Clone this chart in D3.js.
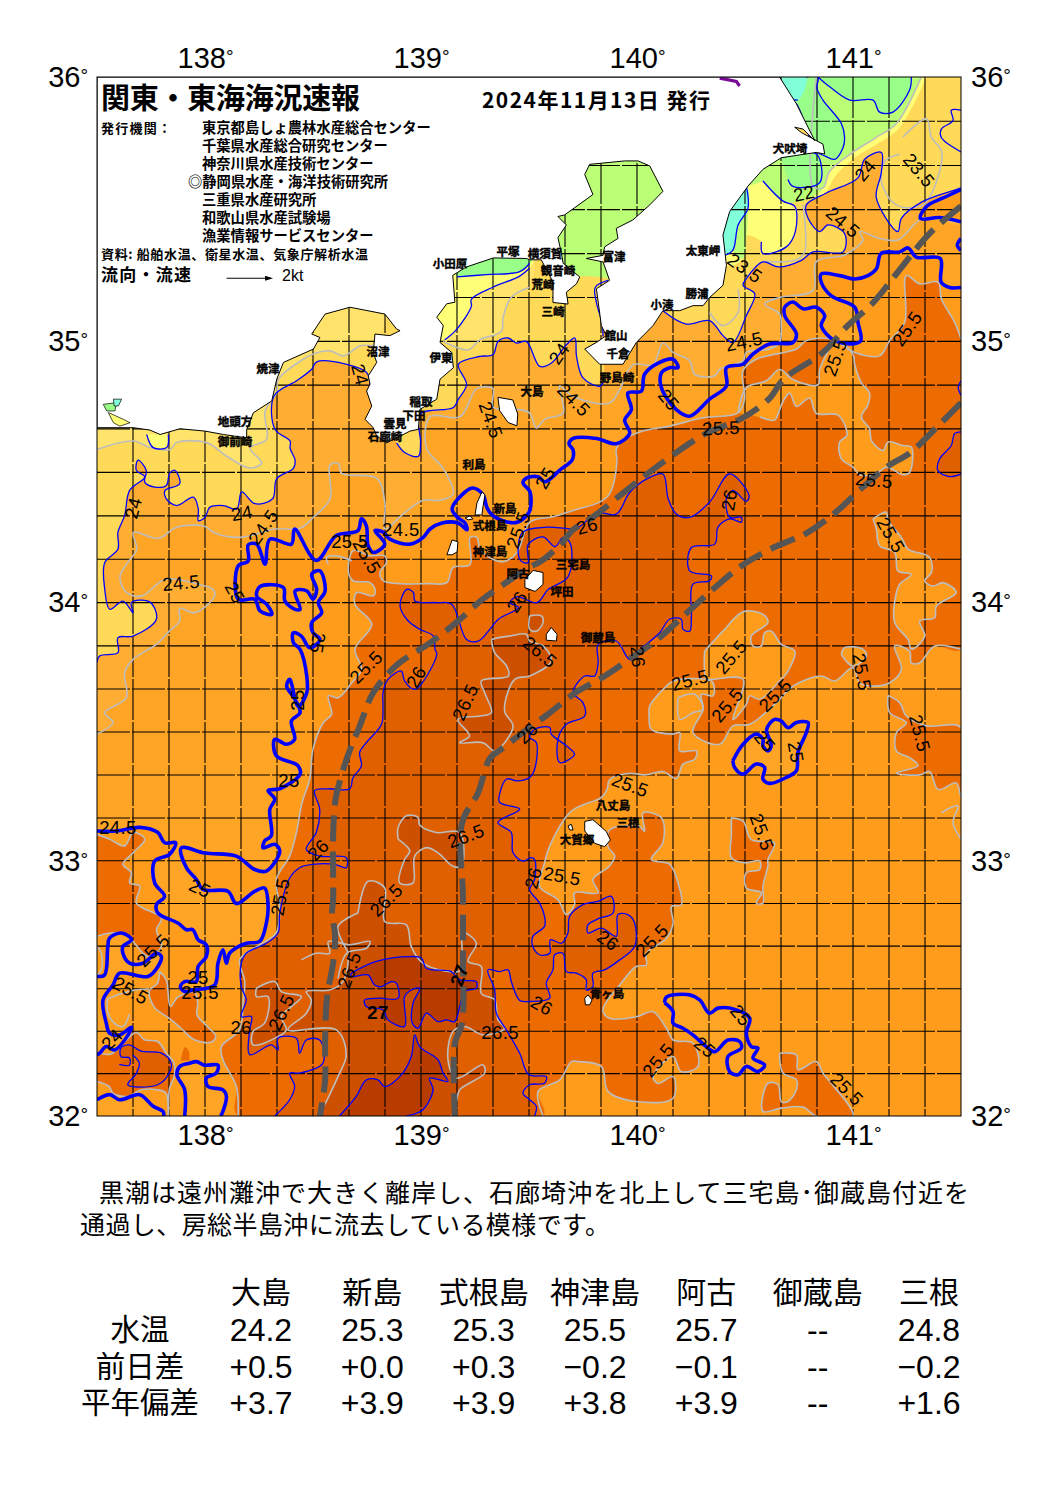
<!DOCTYPE html>
<html>
<head>
<meta charset="utf-8">
<script src="https://cdn.jsdelivr.net/npm/d3@7"></script>
<style>
  html, body { margin: 0; padding: 0; background: #fff; }
  svg { display: block; }
  .cjk { font-family: "Noto Sans CJK JP", sans-serif; }
  .num { font-family: "Liberation Sans", Arial, sans-serif; }
  .narrow { font-family: "Liberation Sans Narrow", "Liberation Sans", Arial, sans-serif; }
</style>
</head>
<body>
<svg id="chart" width="1064" height="1505"></svg>
<script>
// axis ticks
const lonTicks = [138, 139, 140, 141];
const latTicks = [32, 33, 34, 35, 36];

// header text
const titleText = '関東・東海海況速報';
const dateText = '2024年11月13日 発行';
const issuerHead = '発行機関：';
const issuers = ['東京都島しょ農林水産総合センター', '千葉県水産総合研究センター', '神奈川県水産技術センター', '◎静岡県水産・海洋技術研究所', '三重県水産研究所', '和歌山県水産試験場', '漁業情報サービスセンター'];
const sourceText = '資料: 船舶水温、衛星水温、気象庁解析水温';
const flowText = '流向・流速';
const flowUnit = '2kt';

// comment + table under the map
const comment = ['黒潮は遠州灘沖で大きく離岸し、石廊埼沖を北上して三宅島･御蔵島付近を', '通過し、房総半島沖に流去している模様です。'];
const stations = ['大島', '新島', '式根島', '神津島', '阿古', '御蔵島', '三根'];
const rowNames = ['水温', '前日差', '平年偏差'];
const waterTemp = ['24.2', '25.3', '25.3', '25.5', '25.7', '--', '24.8'];
const dayDiff = ['+0.5', '+0.0', '+0.3', '−0.2', '−0.1', '--', '−0.2'];
const normalDiff = ['+3.7', '+3.9', '+3.9', '+3.8', '+3.9', '--', '+1.6'];

// place names: name, lon, lat
const places = [['犬吠埼',140.708,35.732],['太東岬',140.306,35.343],['勝浦',140.278,35.181],['小湊',140.116,35.14],['富津',139.894,35.321],['平塚',139.403,35.34],['横須賀',139.574,35.332],['小田原',139.134,35.294],['観音崎',139.634,35.268],['荒崎',139.565,35.215],['三崎',139.611,35.115],['館山',139.903,35.023],['千倉',139.912,34.954],['野島崎',139.907,34.862],['大島',139.514,34.808],['沼津',138.801,34.962],['伊東',139.093,34.939],['焼津',138.292,34.897],['稲取',139,34.77],['下田',138.968,34.717],['雲見',138.88,34.686],['石廊崎',138.833,34.636],['地頭方',138.139,34.693],['御前崎',138.139,34.617],['利島',139.245,34.529],['新島',139.389,34.36],['式根島',139.319,34.295],['神津島',139.319,34.195],['阿古',139.449,34.11],['三宅島',139.704,34.146],['坪田',139.653,34.042],['御蔵島',139.819,33.864],['八丈島',139.889,33.213],['三根',139.958,33.147],['大賀郷',139.722,33.082],['青ヶ島',139.861,32.482]];

// contour labels: text, lon, lat, text angle
const isoLabels = [['23.5',141.306,35.649,50],['24',141.056,35.649,-50],['22',140.773,35.562,-12],['24.5',140.954,35.453,40],['23.5',140.5,35.279,35],['24.5',140.495,35.0,-12],['25.5',140.917,34.939,-70],['25.5',141.25,35.049,-55],['25',140.148,34.778,50],['24',139.639,34.954,-55],['24.5',139.708,34.778,45],['25.5',140.389,34.67,-3],['24.5',139.324,34.701,70],['24',138.718,34.874,75],['25',139.574,34.479,-60],['26',140.426,34.395,-80],['25.5',141.097,34.471,5],['25.5',141.176,34.26,60],['26',139.769,34.295,-15],['25.5',139.449,34.28,-70],['24.5',138.269,34.291,-55],['24.5',138.907,34.28,0],['25.5',138.671,34.234,0],['25.5',138.75,34.18,60],['24',138.171,34.345,-10],['24',137.667,34.364,-75],['24.5',137.889,34.077,-5],['25',138.139,34.039,60],['25',138.523,33.845,100],['25',138.426,33.624,-90],['25',138.389,33.314,0],['25.5',138.745,33.752,-45],['26',138.977,33.713,-60],['26.5',139.204,33.616,-65],['26',139.444,34.004,-55],['26.5',139.551,33.81,40],['26',140.005,33.791,85],['25.5',140.245,33.702,-15],['25.5',140.435,33.791,-50],['25.5',140.417,33.605,-50],['25.5',140.639,33.643,-45],['25.5',141.042,33.733,80],['25.5',141.31,33.496,75],['26',139.491,33.496,-45],['25',140.593,33.465,50],['25',140.736,33.422,80],['25.5',139.968,33.295,20],['25.5',140.579,33.112,70],['26.5',139.208,33.097,-20],['26',138.523,33.043,-45],['25.5',138.347,32.859,-80],['26.5',138.838,32.847,-45],['26',139.519,32.933,-75],['25.5',139.653,32.941,10],['26',139.866,32.69,35],['25.5',140.069,32.69,-45],['25',137.977,32.894,25],['24.5',137.597,33.129,0],['25.5',137.759,32.651,-45],['25.5',137.657,32.494,30],['25',137.968,32.545,0],['25.5',137.977,32.486,0],['26',138.167,32.349,0],['26.5',138.352,32.408,-65],['26.5',138.667,32.573,-70],['27',138.801,32.408,0],['27',139.176,32.553,-70],['26.5',139.366,32.33,0],['26',139.56,32.435,30],['24',137.569,32.302,-45],['25.5',140.097,32.22,-50],['25',140.315,32.271,40],['25',140.481,32.396,50],['25.5',140.972,32.106,45]];

// 25 degree contour, thick blue, right edge round to left edge
const iso25Main = [[141.5,35.205],[141.447,35.205],[141.408,35.225],[141.404,35.315],[141.293,35.32],[141.255,35.355],[141.216,35.34],[141.131,35.335],[141.108,35.275],[141.069,35.25],[141.008,35.237],[140.938,35.25],[140.853,35.256],[140.853,35.225],[140.9,35.173],[141.008,35.13],[141.023,35.072],[141.034,35.0],[140.923,35.0],[140.853,35.06],[140.869,35.098],[140.83,35.13],[140.769,35.124],[140.722,35.15],[140.684,35.13],[140.684,35.098],[140.738,35.028],[140.722,34.996],[140.614,34.99],[140.537,34.952],[140.49,34.913],[140.414,34.9],[140.414,34.83],[140.336,34.78],[140.244,34.715],[140.182,34.74],[140.113,34.824],[140.113,34.88],[140.151,34.9],[140.19,34.9],[140.167,34.932],[140.105,34.92],[140.035,34.875],[140.02,34.81],[139.958,34.804],[139.974,34.74],[139.943,34.7],[139.966,34.65],[139.904,34.61],[139.812,34.63],[139.704,34.63],[139.685,34.61],[139.704,34.586],[139.70,34.548],[139.644,34.51],[139.574,34.464],[139.542,34.483],[139.49,34.479],[139.472,34.46],[139.505,34.425],[139.505,34.356],[139.491,34.337],[139.449,34.31],[139.398,34.31],[139.329,34.337],[139.306,34.364],[139.287,34.414],[139.241,34.44],[139.204,34.425],[139.144,34.36],[139.171,34.326],[139.204,34.306],[139.213,34.28],[139.171,34.306],[139.097,34.306],[139.042,34.283],[139.009,34.25],[138.949,34.225],[138.856,34.244],[138.826,34.27],[138.787,34.277],[138.832,34.225],[138.78,34.193],[138.755,34.22],[138.747,34.295],[138.724,34.322],[138.708,34.277],[138.608,34.258],[138.515,34.162],[138.415,34.283],[138.4,34.225],[138.30,34.244],[138.278,34.148],[138.239,34.225],[138.2,34.222],[138.2,34.16],[138.154,34.142],[138.154,34.013],[138.23,34.013],[138.255,33.968],[138.309,33.955],[138.285,33.994],[138.239,34.026],[138.255,34.062],[138.363,34.058],[138.37,34.006],[138.417,33.974],[138.44,33.974],[138.417,34.045],[138.471,34.045],[138.5,34.013],[138.517,34.05],[138.494,34.11],[138.532,34.122],[138.556,34.045],[138.525,34.0],[138.54,33.961],[138.494,33.923],[138.5,33.884],[138.532,33.858],[138.485,33.826],[138.446,33.871],[138.409,33.884],[138.409,33.846],[138.44,33.82],[138.471,33.717],[138.471,33.652],[138.432,33.6],[138.392,33.704],[138.378,33.678],[138.417,33.626],[138.44,33.575],[138.4,33.543],[138.415,33.472],[138.377,33.453],[138.323,33.472],[138.33,33.408],[138.43,33.37],[138.44,33.337],[138.346,33.28],[138.292,33.273],[138.323,33.24],[138.3,33.2],[138.307,33.097],[138.276,33.077],[138.269,33.05],[138.323,33.064],[138.346,33.038],[138.284,32.96],[138.23,32.966],[138.145,33.018],[138,33.03],[137.89,33.05],[137.914,32.973],[137.96,32.927],[137.99,32.888],[138.106,32.881],[138.145,32.833],[138.23,32.881],[138.276,32.894],[138.292,32.822],[138.284,32.757],[138.253,32.685],[138.191,32.678],[138.114,32.639],[138.099,32.6],[138.083,32.652],[138.06,32.6],[138.045,32.515],[137.944,32.495],[137.906,32.489],[137.886,32.508],[137.906,32.528],[137.96,32.528],[137.968,32.587],[138.006,32.626],[138.006,32.672],[137.968,32.692],[137.944,32.731],[137.914,32.731],[137.875,32.757],[137.782,32.796],[137.775,32.829],[137.813,32.861],[137.767,32.914],[137.767,32.999],[137.836,33.025],[137.864,33.07],[137.813,33.07],[137.782,33.11],[137.698,33.13],[137.59,33.116],[137.5,33.116]];
const iso25West = [[137.5,32.548],[137.535,32.554],[137.55,32.665],[137.558,32.698],[137.613,32.718],[137.659,32.692],[137.62,32.665],[137.62,32.639],[137.651,32.6],[137.713,32.6],[137.775,32.639],[137.798,32.626],[137.782,32.587],[137.736,32.548],[137.605,32.561],[137.574,32.515],[137.528,32.456],[137.543,32.365],[137.559,32.325],[137.605,32.319],[137.659,32.349],[137.644,32.319],[137.582,32.26],[137.543,32.273],[137.512,32.247],[137.5,32.24]];
const iso25South1 = [[137.5,32.064],[137.559,32.084],[137.605,32.064],[137.698,32.084],[137.76,32.038],[137.806,32.018],[137.809,32.0]];
const iso25South2 = [[137.906,32],[137.906,32.103],[137.87,32.162],[137.883,32.195],[137.929,32.208],[137.96,32.214],[137.998,32.2],[138.06,32.2],[138.052,32.169],[138.006,32.15],[138.014,32.116],[138.083,32.103],[138.099,32.077],[138.076,32.005],[138.07,32]];
const iso25LoopA = [[140.444,33.389],[140.491,33.453],[140.552,33.492],[140.583,33.472],[140.583,33.447],[140.606,33.427],[140.622,33.447],[140.6,33.51],[140.637,33.549],[140.668,33.543],[140.699,33.517],[140.738,33.537],[140.792,33.537],[140.784,33.498],[140.745,33.421],[140.738,33.35],[140.691,33.324],[140.614,33.301],[140.583,33.318],[140.591,33.363],[140.552,33.376],[140.491,33.337],[140.452,33.363],[140.444,33.389]];
const iso25LoopB = [[140.128,32.445],[140.136,32.467],[140.244,32.476],[140.29,32.456],[140.336,32.404],[140.375,32.424],[140.46,32.417],[140.522,32.384],[140.506,32.325],[140.529,32.273],[140.56,32.267],[140.537,32.228],[140.591,32.201],[140.56,32.175],[140.506,32.195],[140.468,32.162],[140.429,32.175],[140.421,32.234],[140.483,32.267],[140.475,32.293],[140.421,32.299],[140.36,32.253],[140.321,32.273],[140.259,32.319],[140.213,32.345],[140.167,32.365],[140.167,32.41],[140.128,32.445]];
const iso25NE = [[141.5,35.576],[141.417,35.544],[141.34,35.512],[141.312,35.467],[141.401,35.47],[141.5,35.454]];
const iso25Edge = [[141.5,35.391],[141.483,35.365],[141.5,35.346]];

// 24.5 grey contour
const iso245 = [[137.5,33.492],[137.574,33.537],[137.536,33.575],[137.636,33.633],[137.628,33.73],[137.667,33.781],[137.775,33.839],[137.836,33.891],[137.883,33.929],[137.883,33.977],[137.952,33.961],[138.045,34.026],[138.037,34.051],[137.968,34.071],[137.815,34.09],[137.707,34.026],[137.637,34.039],[137.606,34.097],[137.637,34.148],[137.684,34.206],[137.668,34.27],[137.784,34.247],[137.869,34.29],[138,34.293],[138.039,34.27],[138.162,34.251],[138.324,34.283],[138.44,34.286],[138.502,34.328],[138.579,34.399],[138.579,34.528],[138.617,34.534],[138.633,34.496],[138.795,34.477],[138.833,34.38],[138.833,34.283],[138.926,34.347],[139.011,34.393],[139.088,34.393],[139.15,34.418],[139.103,34.515],[139.026,34.592],[139.042,34.713],[139.181,34.713],[139.259,34.82],[139.333,34.82],[139.333,34.75],[139.457,34.74],[139.503,34.727],[139.534,34.67],[139.573,34.703],[139.658,34.727],[139.642,34.83],[139.704,34.79],[139.873,34.765],[139.92,34.817],[139.981,34.911],[140.074,34.911],[140.12,34.994],[140.167,34.958],[140.244,34.926],[140.267,34.875],[140.36,34.869],[140.383,34.894],[140.491,34.926],[140.506,34.958],[140.614,34.971],[140.66,34.996],[140.668,35.06],[140.66,35.104],[140.591,35.142],[140.66,35.167],[140.815,35.194],[140.83,35.303],[140.961,35.328],[141.046,35.385],[141.031,35.417],[141.123,35.391],[141.208,35.385],[141.324,35.467],[141.5,35.45]];

// 24 degree contour, thin blue, west + Izu south + Sagami + Boso east
const iso24West = [[137.5,33.768],[137.512,33.794],[137.597,33.807],[137.597,33.865],[137.667,33.871],[137.775,33.936],[137.744,34.003],[137.659,34],[137.667,33.961],[137.62,34.006],[137.559,33.974],[137.536,34.051],[137.536,34.154],[137.597,34.206],[137.597,34.27],[137.628,34.335],[137.651,34.431],[137.721,34.483],[137.682,34.508],[137.69,34.547],[137.728,34.508],[137.721,34.463],[137.767,34.444],[137.821,34.45],[137.836,34.496],[137.86,34.508],[137.883,34.457],[137.815,34.431],[137.821,34.399],[137.869,34.373],[137.946,34.405],[137.969,34.36],[137.969,34.315],[138,34.328],[138.023,34.367],[138.085,34.373],[138.147,34.36],[138.17,34.425],[138.231,34.38],[138.313,34.399],[138.332,34.476],[138.409,34.515],[138.417,34.547],[138.394,34.592],[138.394,34.62],[138.324,34.665],[138.32,34.793],[138.424,34.85],[138.494,34.894],[138.517,34.922],[138.656,34.913],[138.749,34.881],[138.764,34.83]];
const iso24Izu = [[138.887,34.613],[138.926,34.575],[138.988,34.562],[138.998,34.613],[138.995,34.722],[139.15,34.748],[139.173,34.78],[139.211,34.836],[139.173,34.913],[139.272,34.943],[139.333,34.949],[139.357,35],[139.403,35.013],[139.442,34.994],[139.488,35],[139.55,34.905],[139.604,34.918],[139.673,34.987],[139.712,35.013],[139.72,34.943],[139.75,34.861],[139.827,34.829],[139.843,34.842]];
const iso24East = [[140.12,35.117],[140.228,35.066],[140.336,35.079],[140.398,35.022],[140.444,34.996],[140.506,35.098],[140.545,35.181],[140.491,35.213],[140.506,35.238],[140.583,35.302],[140.653,35.283],[140.761,35.308],[140.815,35.34],[140.954,35.34],[140.961,35.41],[140.884,35.442],[140.846,35.417],[140.792,35.467],[140.784,35.518],[140.877,35.563],[141.023,35.62],[141.054,35.69],[141.131,35.716],[141.131,35.64],[141.108,35.544],[141.208,35.417],[141.224,35.467],[141.324,35.531],[141.478,35.576],[141.5,35.582]];
const iso24NE = [[141.5,35.875],[141.455,35.875],[141.463,35.836],[141.409,35.804],[141.409,35.772],[141.5,35.718]];
const iso24Boso = [[139.866,35.232],[139.807,35.206],[139.812,35.148],[139.838,35.071],[139.843,35.019]];

// 23.5 grey contours
const iso235West = [[137.5,34.588],[137.668,34.62],[137.745,34.595],[137.838,34.588],[137.869,34.614],[138.008,34.614],[138.1,34.562],[138.208,34.517],[138.262,34.536],[138.208,34.594],[138.285,34.626],[138.278,34.734],[138.332,34.805],[138.34,34.856],[138.455,34.932],[138.502,34.952],[138.579,34.964],[138.64,34.945],[138.718,34.983],[138.78,34.983]];
const iso235Sagami = [[139.102,35],[139.218,34.968],[139.272,35.006],[139.372,35.039],[139.38,35.09],[139.418,35.168],[139.503,35.206]];
const iso23Sagami = [[139.11,35.006],[139.164,35.045],[139.233,35.133],[139.233,35.16],[139.333,35.206],[139.457,35.248],[139.503,35.279]];
const iso22Sagami = [[139.167,35.245],[139.303,35.254],[139.457,35.265],[139.503,35.297]];
const pondWest = [[137.73,34.645],[137.76,34.595],[137.823,34.595],[137.83,34.645]];

// cold water off Boso / Kashima
const tokyoBay = [[139.627,35.315],[139.596,35.48],[139.75,35.697],[140.151,35.722],[140.151,35.442],[139.881,35.213],[139.866,35.238],[139.735,35.248]];
const bosoYellow = [[140.514,35.589],[140.583,35.608],[140.676,35.532],[140.73,35.513],[140.733,35.417],[140.691,35.359],[140.583,35.334],[140.576,35.378],[140.506,35.403],[140.491,35.315],[140.414,35.289],[140.398,35.442],[140.429,35.518]];
const bosoLime = [[140.514,35.589],[140.583,35.658],[140.668,35.696],[140.722,35.588],[140.815,35.588],[140.861,35.582],[140.784,35.538],[140.676,35.532],[140.583,35.608]];
const bosoGreen = [[140.668,35.696],[140.83,35.71],[140.846,35.602],[140.722,35.588],[140.699,35.614]];
const bosoCyan = [[140.398,35.404],[140.429,35.493],[140.506,35.589],[140.514,35.506],[140.468,35.442],[140.444,35.347],[140.406,35.327]];
const bosoStrip = [[140.514,35.506],[140.506,35.403],[140.491,35.315],[140.444,35.347],[140.468,35.442]];
const kashimaYellow = [[141.34,36],[141.216,35.811],[141.123,35.754],[141.008,35.697],[140.923,35.633],[140.861,35.557],[140.8,35.544],[140.815,35.588],[140.83,36]];
const kashimaLime = [[141.316,36],[141.2,35.824],[141.108,35.773],[140.985,35.709],[140.892,35.645],[140.861,35.582],[140.815,35.588],[140.83,36]];
const kashimaBlue = [[140.784,36],[140.838,36],[140.833,35.958],[140.861,35.913],[140.946,35.825],[140.961,35.773],[140.954,35.735],[140.915,35.69],[140.869,35.703],[140.83,35.72],[140.738,35.899],[140.707,35.913],[140.745,35.913]];
const kashimaNorth = [[140.838,36],[140.892,35.963],[140.985,35.913],[141.093,35.913],[141.123,35.868],[141.185,35.868],[141.262,35.951],[141.27,36]];
const kashimaCyan = [[140.668,36],[140.784,36],[140.745,35.913],[140.707,35.913]];

// 25.5 grey contour, main warm area, right edge (north) round the bottom edge
const iso255Main = [[141.5,35.009],[141.471,35.072],[141.409,35.162],[141.394,35.225],[141.309,35.219],[141.247,35.25],[141.239,35.072],[141.17,35.003],[141.123,34.945],[141.008,34.958],[140.9,35.009],[140.784,35.003],[140.738,34.971],[140.552,34.932],[140.49,34.888],[140.498,34.78],[140.468,34.728],[140.306,34.709],[140.151,34.677],[140.028,34.658],[139.927,34.62],[139.904,34.588],[139.907,34.539],[139.873,34.418],[139.827,34.386],[139.704,34.354],[139.611,34.33],[139.505,34.31],[139.444,34.192],[139.38,34.157],[139.333,34.167],[139.273,34.205],[139.259,34.25],[139.227,34.25],[139.227,34.146],[139.148,34.135],[139.12,34.077],[139.042,34.073],[138.826,34.084],[138.81,34.116],[138.84,34.154],[138.832,34.18],[138.762,34.18],[138.687,34.2],[138.664,34.116],[138.687,34.084],[138.764,34.077],[138.787,34.051],[138.78,34.026],[138.702,34.039],[138.694,33.994],[138.772,33.916],[138.694,33.82],[138.725,33.743],[138.679,33.69],[138.617,33.633],[138.571,33.64],[138.586,33.569],[138.548,33.537],[138.5,33.434],[138.485,33.318],[138.454,33.24],[138.446,33.214],[138.423,33.11],[138.392,33.018],[138.33,32.927],[138.346,32.822],[138.33,32.718],[138.253,32.672],[138.191,32.639],[138.16,32.613],[138.184,32.528],[138.176,32.443],[138.16,32.339],[138.076,32.273],[138.083,32.221],[138.145,32.116],[138.153,32.0]];
const iso255MainEast = [[139.565,32.0],[139.542,32.097],[139.642,32.142],[139.696,32.214],[139.727,32.214],[139.835,32.195],[139.866,32.097],[139.997,32.057],[140.167,32.07],[140.167,32.155],[140.097,32.128],[140.074,32.155],[140.167,32.234],[140.205,32.175],[140.282,32.195],[140.259,32.286],[140.167,32.299],[140.136,32.345],[140.074,32.41],[139.997,32.39],[139.873,32.384],[139.842,32.417],[139.92,32.515],[139.997,32.587],[140.043,32.593],[140.043,32.639],[140.136,32.698],[140.167,32.757],[140.159,32.822],[140.205,32.828],[140.19,32.914],[140.151,32.986],[140.066,33.005],[140.12,33.07],[140.113,33.167],[140.028,33.186],[140.035,33.115],[140.012,33.133],[139.873,33.12],[139.866,33.055],[139.897,33.018],[139.873,32.98],[139.796,32.927],[139.82,32.875],[139.711,32.875],[139.711,32.829],[139.673,32.79],[139.634,32.848],[139.549,32.9],[139.572,32.992],[139.596,33.058],[139.696,33.193],[139.835,33.247],[139.861,33.277],[139.873,33.315],[139.966,33.34],[140.035,33.334],[140.12,33.347],[140.182,33.32],[140.213,33.376],[140.267,33.395],[140.275,33.427],[140.198,33.427],[140.198,33.498],[140.167,33.492],[140.066,33.511],[140.056,33.562],[140.059,33.601],[140.136,33.678],[140.167,33.698],[140.321,33.704],[140.352,33.691],[140.352,33.64],[140.298,33.646],[140.306,33.588],[140.259,33.498],[140.383,33.453],[140.444,33.524],[140.522,33.53],[140.645,33.614],[140.722,33.678],[140.853,33.717],[140.915,33.698],[141,33.749],[141.03,33.691],[141.085,33.678],[141.17,33.691],[141.224,33.743],[141.193,33.833],[141.262,33.813],[141.27,33.768],[141.309,33.768],[141.378,33.833],[141.5,33.82]];

// pockets of cooler water inside the 25.5 area
const pocketNorth = [[140.468,34.728],[140.506,34.824],[140.599,34.85],[140.66,34.893],[140.722,34.855],[140.838,34.835],[140.846,34.893],[140.9,34.983],[140.923,35.003],[141,34.951],[141.008,34.912],[141.039,34.842],[141.077,34.803],[141.069,34.758],[141.039,34.712],[141.077,34.667],[141.085,34.622],[141.139,34.584],[141.162,34.616],[141.231,34.603],[141.27,34.597],[141.262,34.5],[141.231,34.491],[141.154,34.52],[141.108,34.494],[141.031,34.491],[141,34.52],[140.946,34.552],[140.938,34.616],[140.972,34.642],[140.931,34.719],[140.83,34.726],[140.799,34.784],[140.738,34.752],[140.707,34.803],[140.676,34.771],[140.66,34.739],[140.637,34.7],[140.568,34.713]];
const pocketEast = [[141.093,34.322],[141.154,34.348],[141.162,34.316],[141.224,34.251],[141.255,34.206],[141.355,34.174],[141.363,34.116],[141.332,34.084],[141.37,34.064],[141.417,34.077],[141.478,34.039],[141.386,33.987],[141.378,33.942],[141.309,33.929],[141.332,33.871],[141.27,33.82],[141.255,33.858],[141.193,33.923],[141.201,34.039],[141.216,34.071],[141.27,34.109],[141.208,34.122],[141.193,34.193],[141.123,34.219],[141.108,34.283],[141.093,34.322]];
const pocketBlob = [[140.946,33.8],[140.961,33.826],[141.046,33.82],[141.062,33.794],[141,33.755],[140.946,33.8]];
const pocketCentre = [[140.313,33.813],[140.398,33.89],[140.491,33.965],[140.583,33.955],[140.606,33.923],[140.529,33.871],[140.537,33.832],[140.575,33.832],[140.591,33.884],[140.622,33.89],[140.668,33.839],[140.73,33.813],[140.699,33.736],[140.653,33.691],[140.568,33.627],[140.522,33.64],[140.506,33.607],[140.444,33.549],[140.491,33.704],[140.346,33.704],[140.321,33.704],[140.313,33.813]];

// separate 25.5 patches
const warmWest = [[137.5,33.103],[137.559,33.084],[137.628,33.058],[137.667,33.11],[137.721,33.084],[137.667,33.031],[137.62,32.986],[137.659,32.953],[137.651,32.914],[137.698,32.901],[137.682,32.835],[137.798,32.776],[137.775,32.731],[137.798,32.665],[137.736,32.626],[137.659,32.692],[137.613,32.718],[137.559,32.718],[137.5,32.705]];
const warmSW1 = [[137.789,32.568],[137.82,32.536],[137.84,32.43],[137.874,32.467],[137.951,32.487],[137.966,32.442],[137.963,32.397],[138.012,32.351],[138.05,32.313],[138.028,32.29],[137.951,32.3],[137.889,32.345],[137.835,32.384],[137.766,32.427],[137.742,32.49],[137.781,32.523],[137.789,32.568]];
const warmSW2 = [[137.503,32.25],[137.565,32.244],[137.681,32.328],[137.719,32.3],[137.781,32.293],[137.82,32.248],[137.855,32.21],[137.858,32.158],[137.835,32.106],[137.83,32],[137.82,32.09],[137.781,32.103],[137.704,32.103],[137.642,32.077],[137.573,32.09],[137.557,32.116],[137.5,32.136]];
const warmSpot = [[137.889,32.219],[137.907,32.27],[137.926,32.25],[137.926,32.219]];
const warmE1 = [[140.437,33.167],[140.491,33.154],[140.529,33.082],[140.637,33.069],[140.606,33.005],[140.606,32.979],[140.583,32.901],[140.583,32.835],[140.552,32.835],[140.576,32.875],[140.506,32.894],[140.506,32.953],[140.568,32.966],[140.568,32.999],[140.498,32.992],[140.437,33.012],[140.437,33.103],[140.437,33.167]];
const warmE2 = [[140.66,32.247],[140.738,32.24],[140.745,32.182],[140.83,32.214],[140.861,32.169],[141,32],[140.83,32],[140.769,32.035],[140.668,32.031],[140.583,32.018],[140.606,32.129],[140.653,32.123],[140.668,32.057],[140.699,32.057],[140.738,32.103],[140.738,32.142],[140.676,32.169],[140.66,32.247]];
const warmE3 = [[141.162,33.642],[141.216,33.614],[141.247,33.562],[141.34,33.524],[141.5,33.517],[141.5,33.25],[141.478,33.303],[141.394,33.277],[141.355,33.347],[141.309,33.334],[141.201,33.341],[141.301,33.37],[141.262,33.401],[141.201,33.427],[141.201,33.498],[141.247,33.536],[141.17,33.575],[141.162,33.642]];

// 26 degree contour, thin blue
const iso26 = [[138.323,32],[138.392,32.064],[138.415,32.116],[138.392,32.169],[138.438,32.169],[138.546,32.208],[138.531,32.299],[138.469,32.299],[138.438,32.247],[138.423,32.306],[138.338,32.306],[138.338,32.26],[138.307,32.28],[138.207,32.241],[138.207,32.339],[138.215,32.391],[138.168,32.391],[138.191,32.456],[138.168,32.508],[138.168,32.6],[138.191,32.639],[138.284,32.678],[138.338,32.718],[138.346,32.796],[138.392,32.933],[138.438,32.973],[138.5,32.986],[138.6,32.986],[138.654,32.973],[138.654,33.012],[138.531,33.018],[138.469,33.044],[138.515,33.11],[138.531,33.201],[138.508,33.273],[138.57,33.28],[138.67,33.28],[138.685,33.323],[138.724,33.369],[138.716,33.421],[138.747,33.459],[138.817,33.53],[138.824,33.601],[138.824,33.652],[138.847,33.704],[138.909,33.736],[138.924,33.698],[138.972,33.665],[139.073,33.8],[139.065,33.82],[139.057,33.871],[138.995,33.897],[138.941,33.929],[138.903,33.987],[138.934,34.051],[138.965,34.039],[138.972,34.006],[139.073,34],[139.142,33.994],[139.211,33.858],[139.265,33.852],[139.312,33.89],[139.358,33.936],[139.451,33.981],[139.412,34.0],[139.444,34.023],[139.537,34],[139.588,34.05],[139.681,34.1],[139.69,34.23],[139.657,34.25],[139.62,34.215],[139.565,34.253],[139.495,34.222],[139.495,34.153],[139.458,34.165],[139.468,34.268],[139.583,34.29],[139.722,34.287],[139.812,34.345],[139.904,34.34],[139.966,34.423],[140.043,34.474],[140.12,34.494],[140.144,34.4],[140.182,34.341],[140.244,34.328],[140.336,34.386],[140.429,34.494],[140.519,34.41],[140.506,34.389],[140.444,34.431],[140.414,34.4],[140.429,34.328],[140.483,34.328],[140.483,34.309],[140.429,34.322],[140.375,34.29],[140.36,34.225],[140.252,34.212],[140.244,34.122],[140.344,34.103],[140.336,34.084],[140.259,34.071],[140.252,33.949],[140.244,33.89],[140.213,33.897],[140.205,33.936],[140.151,33.936],[140.105,33.884],[140.005,33.813],[139.966,33.781],[139.904,33.852],[139.82,33.839],[139.82,33.768],[139.804,33.717],[139.758,33.717],[139.704,33.652],[139.75,33.614],[139.758,33.562],[139.673,33.53],[139.634,33.472],[139.642,33.382],[139.711,33.414],[139.673,33.447],[139.603,33.492],[139.596,33.518],[139.526,33.511],[139.503,33.479],[139.534,33.46],[139.526,33.356],[139.503,33.324],[139.443,33.311],[139.397,33.318],[139.366,33.266],[139.364,33.227],[139.457,33.201],[139.356,33.149],[139.418,33.11],[139.426,33.031],[139.472,32.999],[139.51,33.012],[139.526,33.005],[139.526,32.927],[139.503,32.888],[139.549,32.835],[139.572,32.783],[139.572,32.744],[139.518,32.705],[139.518,32.665],[139.549,32.633],[139.596,32.639],[139.599,32.692],[139.65,32.678],[139.68,32.718],[139.688,32.783],[139.75,32.829],[139.82,32.842],[139.881,32.861],[139.889,32.796],[139.827,32.776],[139.773,32.75],[139.773,32.718],[139.835,32.737],[139.904,32.705],[139.912,32.79],[139.958,32.79],[139.989,32.757],[139.989,32.665],[139.92,32.613],[139.85,32.574],[139.796,32.561],[139.796,32.508],[139.765,32.495],[139.765,32.535],[139.719,32.561],[139.673,32.567],[139.657,32.639],[139.619,32.633],[139.611,32.574],[139.58,32.522],[139.596,32.463],[139.503,32.45],[139.457,32.454],[139.418,32.528],[139.403,32.574],[139.364,32.567],[139.31,32.574],[139.341,32.495],[139.349,32.404],[139.395,32.339],[139.457,32.247],[139.5,32.162],[139.58,32.155],[139.572,32.129],[139.503,32.123],[139.472,32.09],[139.503,32.064],[139.534,32.038],[139.526,32]];
const iso26SW = [[137.665,32.24],[137.696,32.208],[137.68,32.165],[137.642,32.123],[137.781,32.123],[137.835,32.17],[137.843,32.21],[137.796,32.248],[137.704,32.255],[137.65,32.28],[137.611,32.268],[137.611,32.233],[137.65,32.229],[137.65,32.2],[137.603,32.203]];
const iso26East = [[141.5,34.655],[141.47,34.648],[141.455,34.603],[141.401,34.552],[141.393,34.507],[141.447,34.484],[141.5,34.494]];

// 26.5 grey contours
const iso265A = [[139.326,33.858],[139.341,33.807],[139.397,33.755],[139.405,33.717],[139.279,33.698],[139.295,33.652],[139.326,33.575],[139.272,33.562],[139.171,33.549],[139.225,33.485],[139.179,33.459],[139.287,33.459],[139.341,33.427],[139.387,33.459],[139.426,33.524],[139.387,33.582],[139.434,33.704],[139.503,33.717],[139.603,33.775],[139.565,33.833],[139.503,33.852],[139.488,33.878],[139.41,33.871],[139.358,33.865],[139.326,33.858]];
const iso265Blob = [[139.503,33.949],[139.557,33.949],[139.565,33.923],[139.534,33.89],[139.503,33.897],[139.503,33.949]];
const iso265B = [[138.894,33.084],[138.894,33.129],[138.932,33.175],[138.986,33.169],[138.994,33.139],[139.071,33.11],[139.179,33.11],[139.187,32.979],[139.148,32.979],[139.079,33.031],[139.025,33.051],[138.971,33.018],[138.963,32.914],[138.901,32.914],[138.924,33.005],[138.948,33.038],[138.894,33.084]];
const iso265C = [[138.708,32.796],[138.616,32.744],[138.639,32.678],[138.662,32.639],[138.639,32.528],[138.577,32.495],[138.469,32.489],[138.492,32.456],[138.469,32.404],[138.384,32.339],[138.608,32.339],[138.654,32.241],[138.616,32.156],[138.562,32.057],[138.531,32],[139.14,32],[139.164,32.057],[139.179,32.103],[139.295,32.169],[139.287,32.201],[139.164,32.149],[139.125,32.221],[139.148,32.332],[139.202,32.352],[139.287,32.319],[139.387,32.345],[139.356,32.378],[139.341,32.456],[139.279,32.482],[139.279,32.587],[139.218,32.607],[139.256,32.678],[139.194,32.718],[139.187,32.574],[139.133,32.567],[139.009,32.6],[138.955,32.665],[138.932,32.75],[138.832,32.763],[138.832,32.894],[138.755,32.92],[138.708,32.796]];
const iso265D = [[138.238,32.502],[138.323,32.528],[138.353,32.489],[138.446,32.469],[138.4,32.43],[138.353,32.391],[138.377,32.339],[138.338,32.312],[138.222,32.28],[138.222,32.332],[138.276,32.365],[138.292,32.469],[138.238,32.469],[138.238,32.502]];

// 27 degree contours
const iso27A = [[138.677,32.561],[138.793,32.607],[138.948,32.626],[139.002,32.62],[139.025,32.58],[139.14,32.567],[139.179,32.535],[139.256,32.528],[139.256,32.502],[139.202,32.489],[139.179,32.43],[139.156,32.371],[139.117,32.378],[139.079,32.371],[139.025,32.404],[138.986,32.345],[138.96,32.365],[138.963,32.443],[138.994,32.502],[138.955,32.495],[138.924,32.469],[138.924,32.352],[138.847,32.378],[138.824,32.417],[138.747,32.43],[138.739,32.456],[138.809,32.463],[138.894,32.463],[138.886,32.522],[138.863,32.528],[138.816,32.508],[138.785,32.515],[138.755,32.554],[138.677,32.548],[138.677,32.561]];
const iso27B = [[138.623,32],[138.7,32.077],[138.747,32.142],[138.801,32.142],[138.832,32.116],[138.909,32.162],[138.955,32.234],[138.971,32.319],[138.994,32.273],[139.079,32.221],[139.102,32.169],[139.125,32.136],[139.04,32.149],[139.056,32.103],[139.009,32.025],[138.932,32]];

// other grey half-degree pieces
const greyBits = [
  [[137.549,32.46],[137.611,32.48],[137.665,32.493],[137.742,32.5]],
  [[137.549,32.46],[137.549,32.41],[137.58,32.365],[137.62,32.352],[137.65,32.4]],
  [[141.231,35.773],[141.34,35.843],[141.363,35.773],[141.409,35.722],[141.401,35.645],[141.324,35.518],[141.201,35.518],[141.131,35.607],[141.147,35.683],[141.216,35.709]],
  [[140.769,35.518],[140.776,35.34],[140.738,35.31],[140.583,35.304]],
  [[140.336,35.11],[140.398,35.06],[140.468,35.11],[140.468,35.2]],
  [[138.446,32.613],[138.515,32.639],[138.577,32.639],[138.571,32.685],[138.671,32.672],[138.764,32.685],[138.748,32.659],[138.656,32.639],[138.616,32.54]],
  [[138.571,34.148],[138.563,34.174],[138.61,34.18],[138.68,34.161]],
  [[140.19,33.633],[140.267,33.646],[140.306,33.588],[140.259,33.575],[140.198,33.549],[140.19,33.633]],
  [[141.409,33.187],[141.486,33.214],[141.463,33.149],[141.5,33.084]],
  [[137.5,32.665],[137.52,32.639],[137.52,32.574],[137.5,32.554]]
];
const blueBits = [[[141.5,34.85],[141.487,34.825],[141.5,34.795]]];

// Kuroshio axis limits
const kuroshioNorth = [[141.5,35.513],[141.356,35.411],[141.204,35.26],[141.093,35.147],[140.972,35.057],[140.861,34.958],[140.676,34.854],[140.616,34.785],[140.491,34.709],[140.324,34.651],[140.199,34.586],[140.06,34.502],[139.935,34.421],[139.796,34.329],[139.704,34.28],[139.644,34.222],[139.551,34.157],[139.505,34.138],[139.38,34.069],[139.282,34.011],[139.167,33.926],[139.042,33.845],[138.889,33.76],[138.778,33.651],[138.718,33.527],[138.657,33.399],[138.611,33.267],[138.602,33.225],[138.593,33.093],[138.593,32.847],[138.588,32.796],[138.602,32.71],[138.593,32.6],[138.565,32.467],[138.556,32.286],[138.556,32.141],[138.532,32]];
const kuroshioSouth = [[141.5,34.766],[141.389,34.674],[141.264,34.575],[141.157,34.521],[141.046,34.444],[140.917,34.345],[140.787,34.268],[140.63,34.211],[140.491,34.146],[140.361,34.058],[140.231,33.961],[140.093,33.857],[139.981,33.791],[139.843,33.713],[139.713,33.651],[139.583,33.566],[139.505,33.519],[139.366,33.43],[139.319,33.399],[139.264,33.264],[139.19,33.147],[139.194,32.859],[139.194,32.624],[139.19,32.365],[139.157,32.286],[139.157,32]];

// land
const mainland = [[137.5,34.671],[137.668,34.671],[137.745,34.662],[137.792,34.645],[137.884,34.667],[138,34.658],[138.085,34.645],[138.193,34.632],[138.193,34.664],[138.224,34.728],[138.309,34.773],[138.332,34.856],[138.363,34.92],[138.502,34.971],[138.532,35.015],[138.494,35.028],[138.556,35.104],[138.671,35.13],[138.833,35.104],[138.887,35.047],[138.903,35.041],[138.856,35.022],[138.787,35.028],[138.779,34.958],[138.795,34.92],[138.756,34.869],[138.764,34.837],[138.748,34.811],[138.772,34.754],[138.741,34.703],[138.779,34.671],[138.795,34.639],[138.841,34.613],[138.949,34.658],[138.988,34.665],[138.995,34.741],[139.073,34.78],[139.088,34.856],[139.15,34.9],[139.142,34.958],[139.088,34.996],[139.103,35.06],[139.073,35.092],[139.119,35.143],[139.157,35.149],[139.147,35.251],[139.211,35.283],[139.335,35.317],[139.489,35.315],[139.503,35.31],[139.557,35.31],[139.611,35.226],[139.611,35.148],[139.681,35.142],[139.673,35.187],[139.72,35.219],[139.735,35.245],[139.658,35.297],[139.65,35.335],[139.634,35.394],[139.673,35.442],[139.634,35.474],[139.665,35.48],[139.796,35.557],[139.758,35.633],[139.781,35.671],[139.943,35.684],[140.005,35.684],[140.059,35.665],[140.12,35.569],[140.059,35.518],[139.981,35.461],[139.904,35.429],[139.912,35.391],[139.85,35.359],[139.843,35.327],[139.765,35.315],[139.843,35.302],[139.873,35.232],[139.812,35.2],[139.835,35.06],[139.858,35.022],[139.812,34.996],[139.758,34.971],[139.827,34.913],[139.935,34.913],[139.997,34.996],[140.074,35.06],[140.12,35.117],[140.198,35.117],[140.259,35.136],[140.306,35.136],[140.336,35.167],[140.398,35.213],[140.414,35.289],[140.398,35.404],[140.429,35.493],[140.514,35.589],[140.583,35.652],[140.668,35.696],[140.83,35.716],[140.869,35.71],[140.861,35.747],[140.761,35.791],[140.73,35.811],[140.769,35.804],[140.823,35.76],[140.738,35.899],[140.66,36],[137.5,36]];
const islands = [
  [[139.356,34.787],[139.425,34.777],[139.448,34.723],[139.444,34.678],[139.403,34.691],[139.364,34.736]],
  [[139.481,34.089],[139.519,34.124],[139.565,34.116],[139.565,34.07],[139.528,34.043],[139.481,34.058]],
  [[139.58,33.878],[139.603,33.904],[139.63,33.878],[139.627,33.852],[139.58,33.855]],
  [[139.12,34.184],[139.144,34.241],[139.171,34.234],[139.167,34.195],[139.144,34.184]],
  [[139.25,34.337],[139.259,34.383],[139.282,34.425],[139.296,34.414],[139.287,34.368],[139.282,34.337]],
  [[139.204,34.326],[139.227,34.333],[139.241,34.322],[139.218,34.318]],
  [[139.758,33.153],[139.796,33.16],[139.858,33.114],[139.877,33.081],[139.85,33.055],[139.804,33.068],[139.758,33.116]],
  [[139.681,33.136],[139.696,33.142],[139.704,33.12],[139.688,33.12]],
  [[139.758,32.463],[139.773,32.476],[139.792,32.456],[139.781,32.437],[139.761,32.437]]
];
const lakeYellow = [[137.552,34.729],[137.622,34.703],[137.653,34.69],[137.606,34.677],[137.576,34.69]];
const lakeGreen = [[137.529,34.76],[137.591,34.767],[137.583,34.735],[137.545,34.735]];
const lakeCyan = [[137.576,34.78],[137.614,34.78],[137.599,34.754],[137.579,34.754]];
const tonePurple = [[140.383,35.996],[140.46,35.983],[140.475,35.966]];
const arrowLons = [138.1, 138.315];
const arrowLat = 35.24;

// band colours
const colCyan = '#80ffd8', colGreen = '#99ff88', colLime = '#bbff77', colYellow = '#ffff77';
const colLt235 = '#ffe36a', colLt24 = '#ffd958', colLt245 = '#ffae33', colLt25 = '#ffa526';
const colLt255 = '#ff9c1c', colLt26 = '#ec6c02', colLt265 = '#e06000', colLt27 = '#cc5000', colTop = '#b83c00';

const svg = d3.select('#chart');

const x = d3.scaleLinear().domain([137.5, 141.5]).range([97, 961]);
const merc = lat => Math.log(Math.tan(Math.PI / 4 + lat * Math.PI / 360));
const yMerc = d3.scaleLinear().domain([merc(32), merc(36)]).range([1116, 77]);
const y = lat => yMerc(merc(lat));
const yAxisScale = d3.scaleLinear().domain(latTicks).range(latTicks.map(y));

// contours are a little rounded, the coast stays as traced
const line = d3.line().x(d => x(d[0])).y(d => y(d[1])).curve(d3.curveCatmullRom.alpha(0.5));
const coast = d3.line().x(d => x(d[0])).y(d => y(d[1]));

svg.append('defs').append('clipPath').attr('id', 'mapClip')
  .append('rect').attr('x', 97).attr('y', 77).attr('width', 864).attr('height', 1039);

const map = svg.append('g').attr('clip-path', 'url(#mapClip)');

map.append('rect').attr('x', 97).attr('y', 77).attr('width', 864).attr('height', 1039).attr('fill', colLt255);

const fill = (color, ...parts) => map.append('path')
  .attr('d', line(parts.flat()) + 'Z').attr('fill', color).attr('stroke', color).attr('stroke-width', 0.5);

const NW = [137.5, 36], NE = [141.5, 36];

// cold side first, warmer layers paint over it
fill(colLt25, iso25Main, [NW, NE]);
fill(colLt245, iso245, [NE, NW]);
fill(colLt255, iso25NE);
fill(colLt255, iso25Edge);
fill(colLt245, iso24NE);
fill(colLt24, iso24West, iso24Izu, iso24Boso.slice(0, 1), iso24East, [NE, NW]);
fill(colLt235, iso235West, [[138.9, 36], NW]);
fill(colLt235, iso235Sagami, [[139.503, 35.35], [139, 35.35]]);
fill(colYellow, pondWest);
fill(colYellow, iso23Sagami, [[139.55, 35.4], [139, 35.4], [139, 35]]);
fill(colGreen, iso22Sagami, [[139.6, 35.4], [139.1, 35.4]]);
fill(colLime, tokyoBay);
fill(colYellow, kashimaYellow);
fill(colLime, kashimaLime);
fill(colGreen, kashimaBlue);
fill(colGreen, kashimaNorth);
fill(colCyan, kashimaCyan);
fill(colYellow, bosoYellow);
fill(colLime, bosoLime);
fill(colGreen, bosoGreen);
fill(colLime, bosoStrip);
fill(colCyan, bosoCyan);

fill(colLt26, warmWest);
fill(colLt26, warmSW1);
fill(colLt26, warmSW2);
fill(colLt26, warmSpot);
fill(colLt26, warmE1);
fill(colLt26, warmE2);
fill(colLt26, warmE3);
fill(colLt26, iso255Main, iso255MainEast, [[141.5, 34.5]]);
fill(colLt255, pocketNorth);
fill(colLt255, pocketEast);
fill(colLt255, pocketBlob);
fill(colLt255, pocketCentre);

fill(colLt265, iso26);
fill(colLt265, iso26SW);
fill(colLt265, iso26East);
fill(colLt27, iso265A);
fill(colLt27, iso265Blob);
fill(colLt27, iso265B);
fill(colLt27, iso265C);
fill(colLt27, iso265D);
fill(colTop, iso27A);
fill(colTop, iso27B);

fill(colLt25, iso25West, [[137.5, 32.24]]);
fill(colLt25, iso25South1, [[137.5, 32]]);
fill(colLt25, iso25South2);
fill(colLt25, iso25LoopA);
fill(colLt25, iso25LoopB);

// 10 minute graticule
const gridLons = d3.range(1, 24).map(i => 137.5 + i / 6);
const gridLats = d3.range(1, 24).map(i => 32 + i / 6);
map.append('g').selectAll('line').data(gridLons).join('line')
  .attr('x1', d => x(d)).attr('x2', d => x(d)).attr('y1', 77).attr('y2', 1116)
  .attr('stroke', '#000').attr('stroke-width', 1.1).attr('stroke-dasharray', '41,2');
map.append('g').selectAll('line').data(gridLats).join('line')
  .attr('x1', 97).attr('x2', 961).attr('y1', d => y(d)).attr('y2', d => y(d))
  .attr('stroke', '#000').attr('stroke-width', 1.1).attr('stroke-dasharray', '33,2');

// contour lines
const stroke = (list, color, w) => map.append('g').selectAll('path').data(list).join('path')
  .attr('d', line).attr('fill', 'none').attr('stroke', color).attr('stroke-width', w).attr('stroke-linejoin', 'round');

stroke([iso245, iso235West, iso235Sagami, iso255Main, iso255MainEast, pocketNorth, pocketEast, pocketBlob, pocketCentre,
  warmWest, warmSW1, warmSW2, warmE1, warmE2, warmE3, iso265A, iso265Blob, iso265B, iso265C, iso265D, kashimaLime,
  ...greyBits], '#bdbdbd', 1.6);
stroke([iso24West, iso24Izu, iso24Boso, iso24East, iso24NE, iso23Sagami, iso22Sagami, pondWest, iso26, iso26SW, iso26East,
  iso27A, iso27B, bosoGreen, kashimaNorth, kashimaBlue, bosoYellow.slice(1, 8), bosoCyan.slice(2, 7), ...blueBits], '#0000ff', 1.3);
stroke([iso25Main, iso25West, iso25South1, iso25South2, iso25LoopA, iso25LoopB, iso25NE, iso25Edge], '#0000ff', 3.6);

// Kuroshio limits
map.append('g').selectAll('path').data([kuroshioNorth, kuroshioSouth]).join('path')
  .attr('d', line).attr('fill', 'none').attr('stroke', '#555').attr('stroke-width', 6)
  .attr('stroke-dasharray', '26,10');

// contour labels sit under the land
map.append('g').selectAll('text').data(isoLabels).join('text')
  .attr('class', 'num')
  .attr('transform', d => `translate(${x(d[1])},${y(d[2])}) rotate(${d[3]})`)
  .attr('text-anchor', 'middle').attr('dy', '0.36em')
  .attr('font-size', 18.5).attr('letter-spacing', 0.4).attr('fill', '#000')
  .attr('font-weight', d => d[0] === '27' ? 700 : 400)
  .text(d => d[0]);

// land and islands
map.append('path').attr('d', coast(mainland) + 'Z').attr('fill', '#fff').attr('stroke', '#000').attr('stroke-width', 1);
map.append('g').selectAll('path').data(islands).join('path')
  .attr('d', d => coast(d) + 'Z').attr('fill', '#fff').attr('stroke', '#000').attr('stroke-width', 1);
[[lakeYellow, colYellow], [lakeGreen, colGreen], [lakeCyan, colCyan]].forEach(([p, c]) => {
  map.append('path').attr('d', coast(p) + 'Z').attr('fill', c).attr('stroke', '#000').attr('stroke-width', 0.7);
});
map.append('path').attr('d', coast(tonePurple)).attr('fill', 'none').attr('stroke', '#7a0a96').attr('stroke-width', 3.2);

// place names
map.append('g').selectAll('text').data(places).join('text')
  .attr('class', 'cjk')
  .attr('x', d => x(d[1])).attr('y', d => y(d[2]))
  .attr('text-anchor', 'middle').attr('dy', '0.38em')
  .attr('font-size', 11.5).attr('font-weight', 700).attr('fill', '#000')
  .attr('stroke', '#000').attr('stroke-width', 0.4)
  .text(d => d[0]);

// frame and axes
svg.append('rect').attr('x', 97).attr('y', 77).attr('width', 864).attr('height', 1039)
  .attr('fill', 'none').attr('stroke', '#000').attr('stroke-width', 1);

const styleAxis = g => {
  g.select('.domain').remove();
  g.selectAll('.tick line').remove();
  g.selectAll('text').attr('font-size', 29).attr('fill', '#000')
    .attr('font-family', '"Liberation Sans", Arial, sans-serif');
  // small degree mark, raised a bit
  g.selectAll('text').each(function (d) {
    const t = d3.select(this);
    t.text(d);
    t.append('tspan').attr('font-size', 19).attr('dy', -5).text('°');
  });
};
svg.append('g').attr('transform', 'translate(0,77)')
  .call(d3.axisTop(x).tickValues(lonTicks).tickSize(0).tickPadding(9)).call(styleAxis);
svg.append('g').attr('transform', 'translate(0,1116)')
  .call(d3.axisBottom(x).tickValues(lonTicks).tickSize(0).tickPadding(8)).call(styleAxis);
svg.append('g').attr('transform', 'translate(97,0)')
  .call(d3.axisLeft(yAxisScale).tickValues(latTicks).tickSize(0).tickPadding(9)).call(styleAxis);
svg.append('g').attr('transform', 'translate(961,0)')
  .call(d3.axisRight(yAxisScale).tickValues(latTicks).tickSize(0).tickPadding(10)).call(styleAxis);

// header block
const head = svg.append('g').attr('class', 'cjk').attr('fill', '#000').attr('font-weight', 700);
head.append('text').attr('x', 101).attr('y', 109).attr('font-size', 29).attr('textLength', 259).text(titleText);
head.append('text').attr('x', 482).attr('y', 108).attr('font-size', 21).attr('textLength', 228).text(dateText);
head.append('text').attr('x', 101).attr('y', 133).attr('font-size', 13).attr('textLength', 70).text(issuerHead);
head.selectAll('.issuer').data(issuers).join('text').attr('class', 'issuer')
  .attr('x', d => d.startsWith('◎') ? 188 : 202).attr('y', (d, i) => 133 + i * 18)
  .attr('font-size', 14.3).text(d => d);
head.append('text').attr('x', 101).attr('y', 259).attr('font-size', 13).attr('textLength', 267).text(sourceText);
head.append('text').attr('x', 101).attr('y', 281).attr('font-size', 17).attr('textLength', 90).text(flowText);
svg.append('line').attr('x1', x(arrowLons[0])).attr('x2', x(arrowLons[1]) - 4).attr('y1', y(arrowLat)).attr('y2', y(arrowLat))
  .attr('stroke', '#000').attr('stroke-width', 1.2);
svg.append('path').attr('d', d3.line()([[x(arrowLons[1]) - 8, y(arrowLat) - 2.5], [x(arrowLons[1]), y(arrowLat)], [x(arrowLons[1]) - 8, y(arrowLat) + 2.5]]) + 'Z').attr('fill', '#000');
svg.append('text').attr('class', 'num').attr('x', 282).attr('y', 281).attr('font-size', 16).text(flowUnit);

// comment
svg.append('g').attr('class', 'cjk').selectAll('text').data(comment).join('text')
  .attr('x', (d, i) => i === 0 ? 99 : 80).attr('y', (d, i) => 1202 + i * 32)
  .attr('font-size', 25).attr('textLength', (d, i) => i === 0 ? 870 : 530).attr('fill', '#000').text(d => d);

// station table
const col = d3.scalePoint().domain(stations).range([261, 929]);
const rowY = d3.scalePoint().domain(rowNames).range([1330, 1403]);
svg.append('g').attr('class', 'cjk').selectAll('text').data(stations).join('text')
  .attr('x', d => col(d)).attr('y', 1303).attr('text-anchor', 'middle').attr('font-size', 30).attr('fill', '#000').text(d => d);
svg.append('g').attr('class', 'cjk').selectAll('text').data(rowNames).join('text')
  .attr('x', 140).attr('y', d => rowY(d) + 10).attr('text-anchor', 'middle').attr('font-size', 29.5).attr('fill', '#000').text(d => d);
[waterTemp, dayDiff, normalDiff].forEach((vals, r) => {
  svg.append('g').attr('class', 'narrow').selectAll('text').data(vals).join('text')
    .attr('x', (d, i) => col(stations[i])).attr('y', rowY(rowNames[r]) + 11)
    .attr('text-anchor', 'middle').attr('font-size', 32).attr('fill', '#000').text(d => d);
});
</script>
</body>
</html>
